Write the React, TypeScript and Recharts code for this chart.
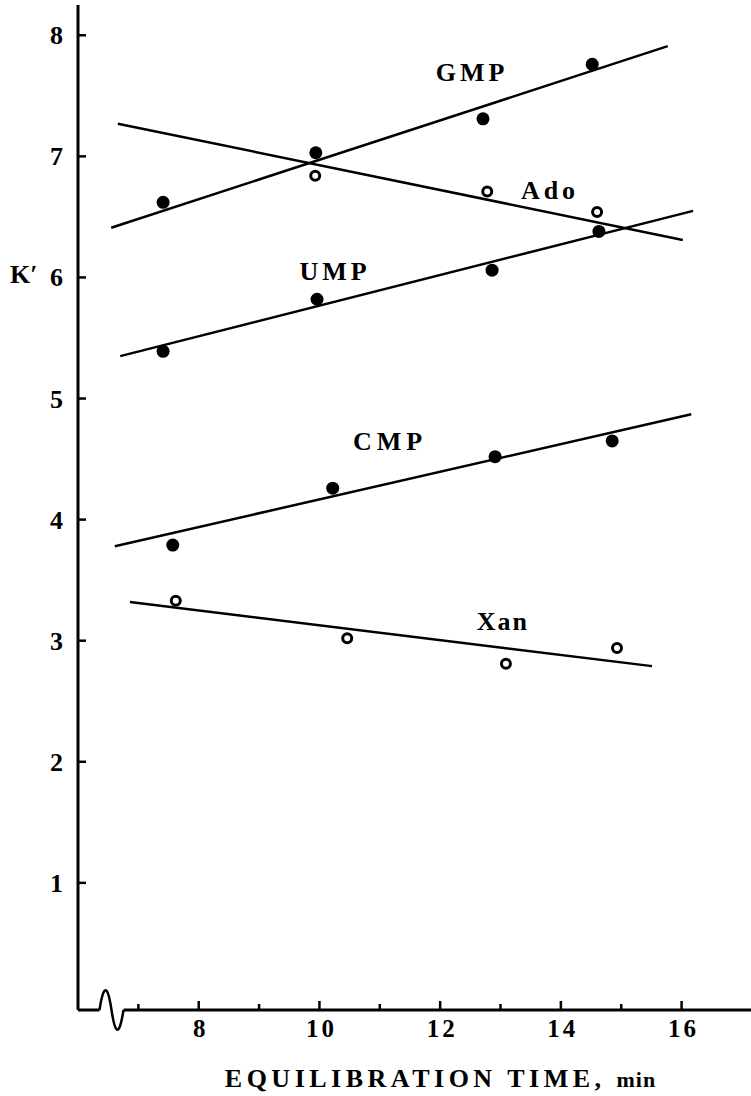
import { ScatterChart, Scatter, XAxis, YAxis, ReferenceLine, ReferenceDot } from 'recharts'

const FONT = "'Liberation Serif', 'Times New Roman', serif"

// measured points (equilibration time, min  ->  k')
const gmpTime = [7.41, 9.94, 12.71, 14.52]
const gmpK = [6.62, 7.03, 7.31, 7.76]
const adoTime = [9.93, 12.78, 14.6]
const adoK = [6.84, 6.71, 6.54]
const umpTime = [7.41, 9.96, 12.86, 14.63]
const umpK = [5.39, 5.82, 6.06, 6.38]
const cmpTime = [7.57, 10.22, 12.91, 14.85]
const cmpK = [3.79, 4.26, 4.52, 4.65]
const xanTime = [7.62, 10.46, 13.09, 14.93]
const xanK = [3.33, 3.02, 2.81, 2.94]

// fitted lines, start / end
const gmpFitTime = [6.55, 15.77]
const gmpFitK = [6.41, 7.91]
const adoFitTime = [6.66, 16.02]
const adoFitK = [7.27, 6.31]
const umpFitTime = [6.7, 16.19]
const umpFitK = [5.35, 6.55]
const cmpFitTime = [6.61, 16.16]
const cmpFitK = [3.78, 4.87]
const xanFitTime = [6.86, 15.51]
const xanFitK = [3.32, 2.79]

// curve labels
const labelNames = ['GMP', 'Ado', 'UMP', 'CMP', 'Xan']
const labelTime = [12.53, 13.82, 10.26, 11.17, 13.04]
const labelK = [7.7, 6.72, 6.05, 4.65, 3.16]

const xTicks = [7, 8, 9, 10, 11, 12, 13, 14, 15, 16]
const xLabelled = [8, 10, 12, 14, 16]
const yTicks = [1, 2, 3, 4, 5, 6, 7, 8]

const pts = (xs: number[], ys: number[]) => xs.map((x, i) => ({ x, y: ys[i] }))
const seg = (xs: number[], ys: number[]) => [{ x: xs[0], y: ys[0] }, { x: xs[1], y: ys[1] }]

const Filled = (p: any) => <circle cx={p.cx} cy={p.cy} r={6.5} fill="#000" />
const Open = (p: any) => (
  <circle cx={p.cx} cy={p.cy} r={4.5} fill="#fff" stroke="#000" strokeWidth={3} />
)

function XTick({ x, y, payload }: any) {
  const major = xLabelled.includes(payload.value)
  return (
    <g>
      <line x1={x} x2={x} y1={y} y2={y - (major ? 9 : 6)} stroke="#000" strokeWidth={2.5} />
      {major && (
        <text x={x + 2} y={y + 27} textAnchor="middle" fontFamily={FONT} fontWeight="bold" fontSize={25} letterSpacing={3} fill="#000">
          {payload.value}
        </text>
      )}
    </g>
  )
}

function YTick({ x, y, payload }: any) {
  return (
    <g>
      <line x1={x} x2={x + 8} y1={y} y2={y} stroke="#000" strokeWidth={2.5} />
      <text x={x - 15} y={y + 9} textAnchor="end" fontFamily={FONT} fontWeight="bold" fontSize={26} fill="#000">
        {payload.value}
      </text>
    </g>
  )
}

const spacing: Record<string, number> = { GMP: 4, Ado: 4, UMP: 4, CMP: 5, Xan: 2 }

const Squiggle = (p: any) => {
  const { cx, cy } = p
  return (
    <g>
      <rect x={cx - 12} y={cy - 3} width={24} height={6} fill="#fff" />
      <path
        d={`M ${cx - 12} ${cy} C ${cx - 7} ${cy - 32} ${cx - 3} ${cy - 20} ${cx} ${cy} C ${cx + 3} ${cy + 20} ${cx + 7} ${cy + 32} ${cx + 12} ${cy}`}
        fill="none"
        stroke="#000"
        strokeWidth={2.5}
      />
    </g>
  )
}

export default function App() {
  const fits = [
    seg(gmpFitTime, gmpFitK),
    seg(adoFitTime, adoFitK),
    seg(umpFitTime, umpFitK),
    seg(cmpFitTime, cmpFitK),
    seg(xanFitTime, xanFitK),
  ]
  return (
    <div style={{ position: 'absolute', left: 0, top: 0, background: '#fff' }}>
      <ScatterChart width={751} height={1096} margin={{ top: 5, right: 0, bottom: 0, left: 0 }}>
        <XAxis
          dataKey="x"
          type="number"
          domain={[6, 17.15]}
          ticks={xTicks}
          allowDataOverflow
          height={86}
          tickSize={0}
          tickMargin={0}
          axisLine={{ stroke: '#000', strokeWidth: 3 }}
          tick={(props: any) => <XTick {...props} />}
          label={{
            content: ({ viewBox }: any) => (
              <text
                x={viewBox.x + viewBox.width / 2 + 26}
                y={viewBox.y + 77}
                textAnchor="middle"
                fontFamily={FONT}
                fontWeight="bold"
                fontSize={26}
                letterSpacing={4.5}
                fill="#000"
              >
                EQUILIBRATION TIME, <tspan fontSize={22} letterSpacing={1}>min</tspan>
              </text>
            ),
          }}
        />
        <YAxis
          dataKey="y"
          type="number"
          domain={[-0.05, 8.25]}
          ticks={yTicks}
          allowDataOverflow
          width={78}
          tickSize={0}
          tickMargin={0}
          axisLine={{ stroke: '#000', strokeWidth: 3 }}
          tick={(props: any) => <YTick {...props} />}
          label={{
            content: ({ viewBox }: any) => (
              <text x={viewBox.x + 10} y={viewBox.y + 278} fontFamily={FONT} fontWeight="bold" fontSize={26} fill="#000">
                K′
              </text>
            ),
          }}
        />
        {fits.map((s, i) => (
          <ReferenceLine key={i} segment={s} stroke="#000" strokeWidth={2.5} />
        ))}
        <Scatter data={pts(gmpTime, gmpK)} shape={Filled} isAnimationActive={false} />
        <Scatter data={pts(adoTime, adoK)} shape={Open} isAnimationActive={false} />
        <Scatter data={pts(umpTime, umpK)} shape={Filled} isAnimationActive={false} />
        <Scatter data={pts(cmpTime, cmpK)} shape={Filled} isAnimationActive={false} />
        <Scatter data={pts(xanTime, xanK)} shape={Open} isAnimationActive={false} />
        {labelNames.map((name, i) => (
          <ReferenceDot
            key={name}
            x={labelTime[i]}
            y={labelK[i]}
            r={1}
            shape={(p: any) => (
              <text
                x={p.cx}
                y={p.cy + 9}
                textAnchor="middle"
                fontFamily={FONT}
                fontWeight="bold"
                fontSize={26}
                letterSpacing={spacing[name]}
                fill="#000"
              >
                {name}
              </text>
            )}
          />
        ))}
        <ReferenceDot x={6.555} y={-0.05} r={1} ifOverflow="visible" shape={Squiggle} />
      </ScatterChart>
    </div>
  )
}
